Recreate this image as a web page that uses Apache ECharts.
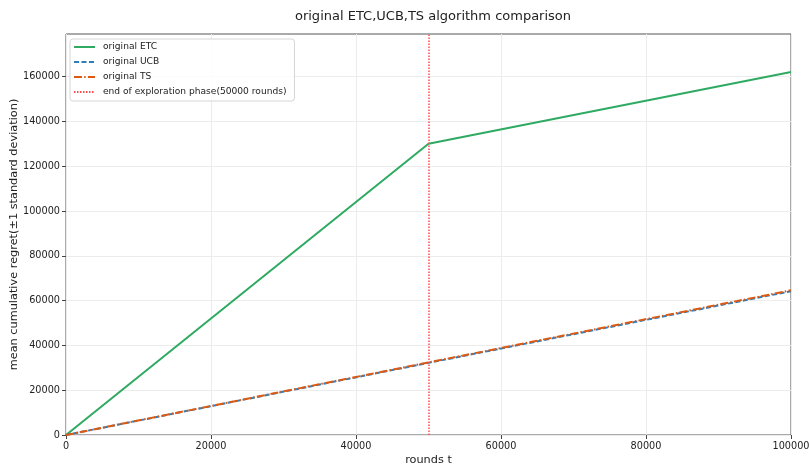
<!DOCTYPE html>
<html>
<head>
<meta charset="utf-8">
<script src="https://cdn.jsdelivr.net/npm/echarts@6/dist/echarts.min.js"></script>
<style>html,body{margin:0;padding:0;background:#fff}#c{width:809px;height:468px}</style>
</head>
<body>
<div id="c"></div>
<script>
// ---- data ----
var rounds = [0, 50000, 100000];
var etcRegret = [0, 130000, 162000];
var ucbRegret = [0, 32200, 64200];
var tsRegret  = [0, 32400, 64600];
var explorationEnd = 50000;
var xTicks = [0, 20000, 40000, 60000, 80000, 100000];
var yTicks = [0, 20000, 40000, 60000, 80000, 100000, 120000, 140000, 160000];
var yMax = 179000;

function pairs(xs, ys) { return xs.map(function (x, i) { return [x, ys[i]]; }); }

var font = 'DejaVu Sans';
var chart = echarts.init(document.getElementById('c'), null, {renderer: 'canvas'});
chart.setOption({
  backgroundColor: '#ffffff',
  animation: false,
  textStyle: {fontFamily: font},
  title: {
    text: 'original ETC,UCB,TS algorithm comparison',
    left: 428, top: 5, textAlign: 'center',
    textStyle: {fontFamily: font, fontSize: 13, fontWeight: 'normal', color: '#222'}
  },
  grid: {left: 66, right: 18, top: 34, bottom: 33, show: true, borderColor: '#555', borderWidth: 1,
         containLabel: false, outerBoundsMode: 'none'},
  legend: {
    orient: 'vertical', left: 70, top: 39,
    padding: [3, 8, 4, 3],
    itemWidth: 21, itemHeight: 10, itemGap: 5,
    itemStyle: {opacity: 0},
    backgroundColor: 'rgba(255,255,255,0.85)',
    borderColor: '#d6d6d6', borderWidth: 1, borderRadius: 3,
    textStyle: {fontFamily: font, fontSize: 9.1, color: '#222', lineHeight: 10, padding: [0, 0, 0, 3]},
    data: ['original ETC', 'original UCB', 'original TS', 'end of exploration phase(50000 rounds)']
  },
  xAxis: {
    type: 'value', min: xTicks[0], max: xTicks[xTicks.length - 1], interval: 20000,
    name: 'rounds t', nameLocation: 'middle', nameGap: 20, nameMoveOverlap: false,
    nameTextStyle: {fontFamily: font, fontSize: 11.3, color: '#222'},
    axisLine: {show: false},
    axisTick: {show: true, inside: false, length: 4, lineStyle: {color: '#444'}},
    axisLabel: {fontFamily: font, fontSize: 9.7, color: '#222', margin: 6,
      formatter: function (v) { return xTicks.indexOf(v) >= 0 ? String(v) : ''; }},
    splitLine: {show: true, lineStyle: {color: '#ececec', width: 1}}
  },
  yAxis: {
    type: 'value', min: 0, max: yMax, interval: 20000,
    name: 'mean cumulative regret(±1 standard deviation)', nameLocation: 'middle', nameGap: 46,
    nameMoveOverlap: false,
    nameTextStyle: {fontFamily: font, fontSize: 11.3, color: '#222'},
    axisLine: {show: false},
    axisTick: {show: true, inside: false, length: 4, lineStyle: {color: '#444'}, customValues: yTicks},
    axisLabel: {fontFamily: font, fontSize: 9.7, color: '#222', margin: 6, customValues: yTicks,
      formatter: function (v) { return yTicks.indexOf(v) >= 0 ? String(v) : ''; }},
    splitLine: {show: true, lineStyle: {color: '#ececec', width: 1}}
  },
  series: [
    {name: 'original ETC', type: 'line', symbol: 'none', data: pairs(rounds, etcRegret),
     lineStyle: {color: '#2eaa62', width: 2}, itemStyle: {color: '#2eaa62'}, z: 3},
    {name: 'original UCB', type: 'line', symbol: 'none', data: pairs(rounds, ucbRegret),
     lineStyle: {color: '#2b7fbf', width: 2, type: [5, 2.5]}, itemStyle: {color: '#2b7fbf'}, z: 4},
    {name: 'original TS', type: 'line', symbol: 'none', data: pairs(rounds, tsRegret),
     lineStyle: {color: '#dd5a12', width: 2, type: [8, 2.2, 1.5, 2.2]}, itemStyle: {color: '#dd5a12'}, z: 5},
    {name: 'end of exploration phase(50000 rounds)', type: 'line', symbol: 'none', data: [],
     lineStyle: {color: '#ff4a4a', width: 1.5, type: [1.5, 1.5]}, itemStyle: {color: '#ff4a4a'},
     markLine: {silent: true, symbol: 'none', label: {show: false},
       lineStyle: {color: '#ff4a4a', width: 1.5, type: [1.5, 1.5]},
       data: [{xAxis: explorationEnd}]}, z: 6}
  ]
});
</script>
</body>
</html>
